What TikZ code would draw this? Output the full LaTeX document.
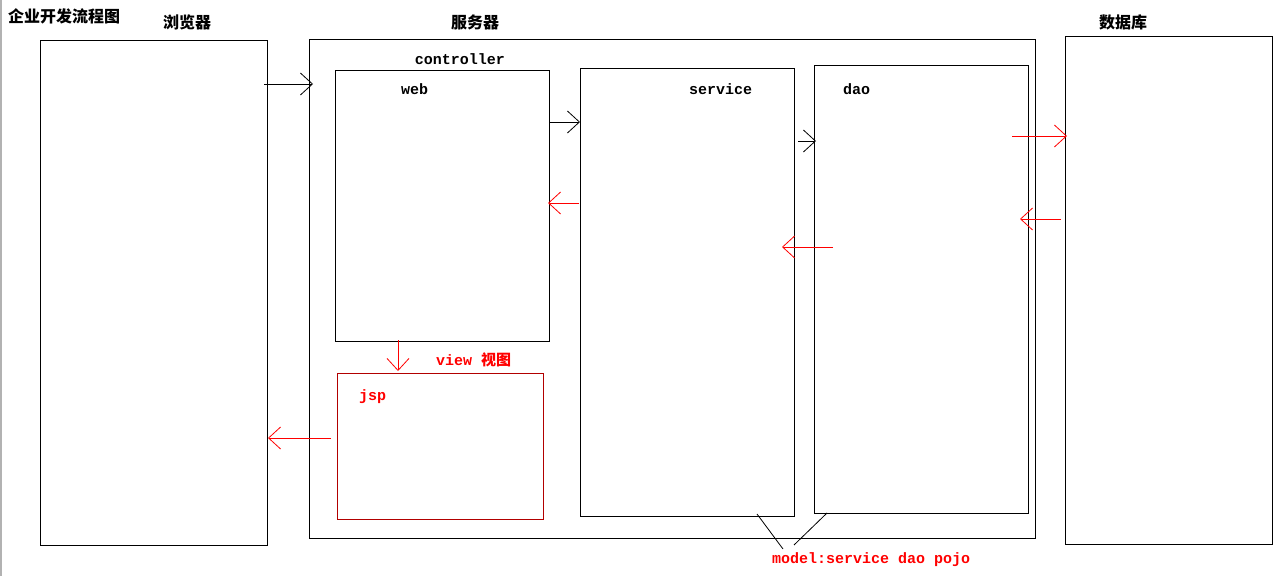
\documentclass[tikz,border=0pt]{standalone}
\usepackage{fontspec}
\setmonofont{Liberation Mono}
\newfontfamily\cjk{Noto Sans CJK SC}
\usetikzlibrary{arrows.meta}
\definecolor{rd}{RGB}{255,0,0}
\tikzset{
  x=1pt,y=-1pt,
  box/.style={draw=black,line width=1pt},
  ar/.style={line width=0.8pt,-{Straight Barb[length=12pt,width=22pt,line width=0.8pt]}},
  cn/.style={font=\cjk\bfseries\fontsize{16}{16}\selectfont,inner sep=0pt},
  en/.style={font=\ttfamily\bfseries\fontsize{15}{15}\selectfont,inner sep=0pt},
}
\begin{document}
\begin{tikzpicture}
\useasboundingbox (0,0) rectangle (1288,576);
\fill[gray!60] (0,0) rectangle (2,576);
% boxes
\draw[box] (40,40) rectangle (267,545);
\draw[box] (309,39) rectangle (1035,538);
\draw[box] (335,70) rectangle (549,341);
\draw[box] (580,68) rectangle (794,516);
\draw[box] (814,65) rectangle (1028,513);
\draw[box] (1065,36) rectangle (1272,544);
\draw[box,draw=rd!70!black] (337,373) rectangle (543,519);
% named anchors
\coordinate (b1) at (264,84); \coordinate (s1) at (313,84);
\coordinate (w1) at (549,122); \coordinate (v1) at (580,122);
\coordinate (v2) at (579,203); \coordinate (w2) at (548,203);
\coordinate (v3) at (798,141); \coordinate (d1) at (816,141);
\coordinate (d2) at (833,247); \coordinate (v4) at (782,247);
\coordinate (d3) at (1012,136); \coordinate (db1) at (1067,136);
\coordinate (db2) at (1061,219); \coordinate (d4) at (1020,219);
\coordinate (w3) at (398,340); \coordinate (j1) at (398,371);
\coordinate (j2) at (331,438); \coordinate (b2) at (268,438);
\coordinate (m1) at (757,514); \coordinate (m2) at (783,549);
\coordinate (m3) at (827,513); \coordinate (m4) at (794,545);
% arrows
\draw[ar] (b1) -- (s1);
\draw[ar] (w1) -- (v1);
\draw[ar,rd] (v2) -- (w2);
\draw[ar] (v3) -- (d1);
\draw[ar,rd] (d2) -- (v4);
\draw[ar,rd] (d3) -- (db1);
\draw[ar,rd] (db2) -- (d4);
\draw[ar,rd] (w3) -- (j1);
\draw[ar,rd] (j2) -- (b2);
\draw[line width=0.8pt] (m1) -- (m2);
\draw[line width=0.8pt] (m3) -- (m4);
% texts
\node[cn,anchor=west] (title) at (8,16) {企业开发流程图};
\node[cn] (tb) at (187,22) {浏览器};
\node[cn] (ts) at (475,22) {服务器};
\node[cn] (td) at (1123,22) {数据库};
\node[en] (tc) at (460,59) {controller};
\node[en,anchor=west] (tw) at (401,89) {web};
\node[en,anchor=west] (tsv) at (689,89) {service};
\node[en,anchor=west] (tdao) at (843,89) {dao};
\node[en,anchor=west,text=rd] (tv) at (436,360) {view {\cjk\bfseries 视图}};
\node[en,anchor=west,text=rd] (tj) at (359,397) {jsp};
\node[en,anchor=west,text=rd] (tm) at (772,560) {model:service dao pojo};
\end{tikzpicture}
\end{document}
